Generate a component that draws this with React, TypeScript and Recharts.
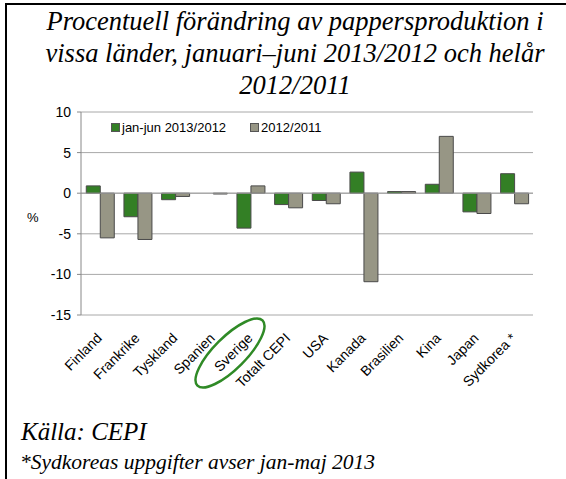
import React from "react"
import { BarChart, Bar, XAxis, YAxis, CartesianGrid, ReferenceLine, Legend } from "recharts"

const countries = [
  "Finland",
  "Frankrike",
  "Tyskland",
  "Spanien",
  "Sverige",
  "Totalt CEPI",
  "USA",
  "Kanada",
  "Brasilien",
  "Kina",
  "Japan",
  "Sydkorea *",
]
const janJun2013 = [0.9, -2.9, -0.8, 0, -4.3, -1.4, -0.9, 2.6, 0.2, 1.1, -2.3, 2.4]
const full2012 = [-5.5, -5.7, -0.4, -0.1, 0.9, -1.8, -1.3, -10.9, 0.2, 7.0, -2.5, -1.3]
const yTicks = [-15, -10, -5, 0, 5, 10]

const seriesNames = { a: "jan-jun 2013/2012", b: "2012/2011" }

const chartData = countries.map((name, i) => ({
  name,
  a: janJun2013[i],
  b: full2012[i],
}))

const GREEN = "#337f25"
const GRAY = "#979685"
const sans = "'Liberation Sans', Arial, sans-serif"
const serif = "'Liberation Serif', 'Times New Roman', serif"

function LegendBox() {
  const items = [
    { label: seriesNames.a, color: GREEN },
    { label: seriesNames.b, color: GRAY },
  ]
  return (
    <div style={{ display: "flex", gap: 24, fontFamily: sans, fontSize: 13, color: "#000" }}>
      {items.map((it) => (
        <div key={it.label} style={{ display: "flex", alignItems: "center" }}>
          <span
            style={{
              display: "inline-block",
              width: 7,
              height: 7,
              background: it.color,
              border: "1px solid #555",
              marginRight: 2,
            }}
          />
          {it.label}
        </div>
      ))}
    </div>
  )
}

export default function App() {
  return (
    <div
      style={{
        position: "absolute",
        left: 0,
        top: 0,
        width: 566,
        height: 479,
        background: "#fff",
        overflow: "hidden",
      }}
    >
      <div
        style={{
          position: "absolute",
          left: 5,
          top: 3,
          width: 600,
          height: 600,
          borderLeft: "2px solid #000",
          borderTop: "2px solid #000",
        }}
      />
      <div
        style={{
          position: "absolute",
          left: 0,
          top: 5,
          width: 590,
          textAlign: "center",
          whiteSpace: "nowrap",
          fontFamily: serif,
          fontStyle: "italic",
          fontSize: 26.5,
          lineHeight: "32px",
        }}
      >
        Procentuell förändring av pappersproduktion i
        <br />
        vissa länder, januari–juni 2013/2012 och helår
        <br />
        2012/2011
      </div>

      <div style={{ position: "absolute", left: 0, top: 0 }}>
        <BarChart
          width={566}
          height={400}
          data={chartData}
          margin={{ top: 112, right: 33, left: 0, bottom: 0 }}
          barCategoryGap="14%"
          barGap={0}
        >
          <CartesianGrid vertical={false} stroke="#a8a8a8" />
          <XAxis
            dataKey="name"
            interval={0}
            axisLine={false}
            tickLine={false}
            tickSize={0}
            tickMargin={17}
            height={85}
            tick={{ angle: -45, textAnchor: "end", dx: -4, fontSize: 14, fontFamily: sans, fill: "#000" }}
          />
          <YAxis
            width={81}
            domain={[-15, 10]}
            ticks={yTicks}
            interval={0}
            stroke="#888"
            tickSize={4}
            tickMargin={6}
            tick={{ fill: "#000", fontSize: 14, fontFamily: sans }}
            label={{
              value: "%",
              position: "insideLeft",
              offset: 27,
              dy: 4,
              fill: "#000",
              fontSize: 13,
              fontFamily: sans,
            }}
          />
          <ReferenceLine y={0} stroke="#a0a0a0" />
          <Legend
            layout="horizontal"
            verticalAlign="middle"
            align="center"
            wrapperStyle={{ position: "absolute", top: 120, left: 111, width: "auto" }}
            content={<LegendBox />}
          />
          <Bar dataKey="a" name={seriesNames.a} fill={GREEN} stroke="#4a4a4a" strokeWidth={1} isAnimationActive={false} />
          <Bar dataKey="b" name={seriesNames.b} fill={GRAY} stroke="#4a4a4a" strokeWidth={1} isAnimationActive={false} />
        </BarChart>
      </div>

      <svg
        width={566}
        height={479}
        style={{ position: "absolute", left: 0, top: 0, pointerEvents: "none" }}
      >
        <ellipse
          cx={230}
          cy={353}
          rx={46}
          ry={16}
          transform="rotate(-45 230 353)"
          fill="none"
          stroke="#2f8a26"
          strokeWidth={2.5}
        />
      </svg>

      <div
        style={{
          position: "absolute",
          left: 21,
          top: 418,
          fontFamily: serif,
          fontStyle: "italic",
          fontSize: 25,
          lineHeight: "28px",
        }}
      >
        Källa: CEPI
      </div>
      <div
        style={{
          position: "absolute",
          left: 20,
          top: 451,
          fontFamily: serif,
          fontStyle: "italic",
          fontSize: 21.5,
          lineHeight: "22px",
          whiteSpace: "nowrap",
        }}
      >
        *Sydkoreas uppgifter avser jan-maj 2013
      </div>
    </div>
  )
}
